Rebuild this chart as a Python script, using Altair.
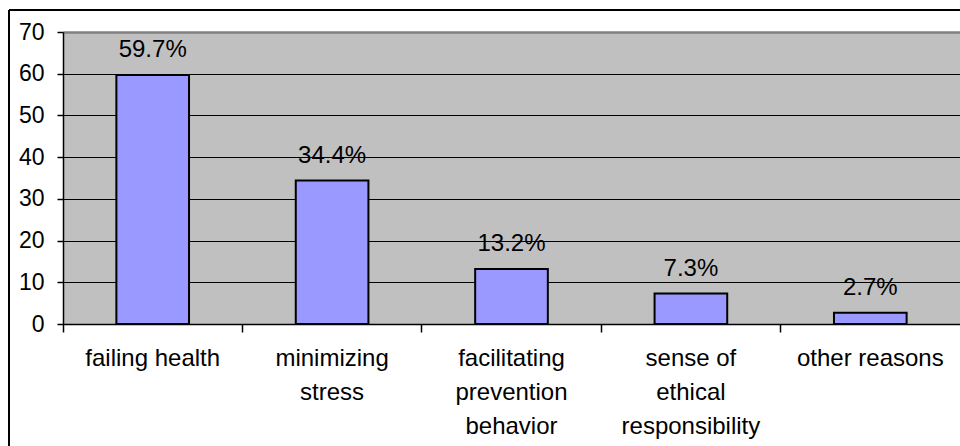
import altair as alt
import pandas as pd

categories = [
    "failing health",
    "minimizing\nstress",
    "facilitating\nprevention\nbehavior",
    "sense of\nethical\nresponsibility",
    "other reasons",
]
values = [59.7, 34.4, 13.2, 7.3, 2.7]
value_labels = ["59.7%", "34.4%", "13.2%", "7.3%", "2.7%"]
y_ticks = [0, 10, 20, 30, 40, 50, 60, 70]

df = pd.DataFrame({"cat": categories, "val": values, "lab": value_labels})

FONT = "Liberation Sans"
W, H = 897, 292

x_enc = alt.X(
    "cat:N",
    sort=categories,
    scale=alt.Scale(paddingInner=0, paddingOuter=0),
    axis=alt.Axis(
        title=None,
        labelAngle=0,
        labelExpr="split(datum.label, '\\n')",
        bandPosition=0,
        labelFont=FONT,
        labelFontSize=24,
        labelColor="black",
        labelLineHeight=34,
        labelPadding=14,
        labelBaseline="top",
        tickSize=8,
        tickColor="black",
        tickWidth=1.5,
        domainColor="black",
        domainWidth=1.5,
        grid=False,
        labelLimit=300,
    ),
)

y_enc = alt.Y(
    "val:Q",
    scale=alt.Scale(domain=[0, 70], nice=False, zero=True),
    axis=alt.Axis(
        title=None,
        values=y_ticks,
        labelFont=FONT,
        labelFontSize=23,
        labelColor="black",
        labelPadding=13,
        tickSize=6,
        tickColor="black",
        tickWidth=1.5,
        domainColor="black",
        domainWidth=1.5,
        grid=True,
        gridColor={"condition": {"test": "datum.value == 70", "value": "#808080"}, "value": "black"},
        gridWidth={"condition": {"test": "datum.value == 70", "value": 2.5}, "value": 1.2},
        gridOpacity=1,
    ),
)

bars = alt.Chart(df).mark_bar(
    width=alt.RelativeBandSize(0.405),
    color="#9999ff",
    stroke="black",
    strokeWidth=2,
).encode(x=x_enc, y=y_enc)

text = alt.Chart(df).mark_text(
    font=FONT,
    fontSize=24,
    color="black",
    baseline="bottom",
    dy=-13,
).encode(x=alt.X("cat:N", sort=categories), y="val:Q", text="lab:N")

border_top = alt.Chart(df).mark_rule(color="black", strokeWidth=2).encode(
    x=alt.value(-54), x2=alt.value(W + 10), y=alt.value(-22)
)
border_left = alt.Chart(df).mark_rule(color="black", strokeWidth=2).encode(
    x=alt.value(-54), y=alt.value(-22), y2=alt.value(H + 130)
)

chart = (
    alt.layer(bars, text, border_top, border_left)
    .properties(
        width=W,
        height=H,
        padding={"left": 63, "top": 32, "right": 0, "bottom": 122},
        autosize=alt.AutoSizeParams(type="none"),
        background="white",
    )
    .configure_view(fill="#c0c0c0", stroke=None)
)

chart.save("out.html", embed_options={"renderer": "svg", "actions": False})
